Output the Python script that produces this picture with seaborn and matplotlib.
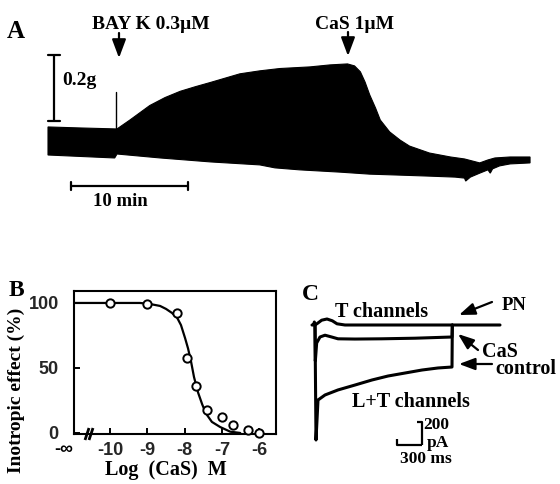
import numpy as np
import matplotlib
matplotlib.use("Agg")
import matplotlib.pyplot as plt
import seaborn as sns
from matplotlib.lines import Line2D
from matplotlib.patches import FancyArrowPatch

sns.set_theme(style="white")
plt.rcParams['font.family'] = ['Liberation Serif', 'DejaVu Sans']
plt.rcParams['axes.unicode_minus'] = False

W, H = 560, 484

# ---------------- Panel A: contraction trace envelope (time in min, force in g)
a_top_t = [0, 2.7, 5.8, 5.9, 7.0, 8.7, 10.0, 11.3, 12.6, 13.9, 16.4, 18.1, 19.8, 22.4, 24.1,
           25.6, 26.2, 26.7, 27.1, 27.5, 28.0, 28.4, 29.2, 30.1, 30.9, 32.6, 34.4, 35.6,
           36.9, 37.6, 38.2, 39.5, 41.2]
a_top_g = [0.085, 0.082, 0.079, 0.079, 0.106, 0.150, 0.174, 0.193, 0.207, 0.220, 0.246, 0.255,
           0.262, 0.267, 0.273, 0.276, 0.270, 0.252, 0.221, 0.182, 0.142, 0.106, 0.070, 0.045,
           0.027, 0.006, -0.006, -0.012, -0.024, -0.015, -0.009, -0.006, -0.006]
a_bot_t = [0, 5.7, 5.9, 9.6, 13.9, 18.1, 19.4, 21.5, 25.0, 27.5, 30.1, 32.6, 34.8, 35.6,
           35.7, 36.1, 36.9, 37.6, 37.8, 38.0, 38.6, 39.5, 41.2]
a_bot_g = [0.0, -0.009, 0.003, -0.009, -0.021, -0.030, -0.039, -0.045, -0.052, -0.058, -0.061,
           -0.064, -0.067, -0.070, -0.079, -0.067, -0.055, -0.045, -0.055, -0.042, -0.033,
           -0.027, -0.024]
a_spike_t = [5.8, 5.8]
a_spike_g = [0.079, 0.191]

# ---------------- Panel B: concentration-response
b_logc = [-10, -9, -8.2, -7.95, -7.7, -7.4, -7.0, -6.7, -6.3, -6.0]
b_effect = [100, 99, 92, 58, 36, 18, 12, 6, 2, 0]
b_fit_logc = [-10.97, -9.2, -8.93, -8.66, -8.5, -8.34, -8.2, -8.1, -7.99, -7.91, -7.83, -7.75,
              -7.64, -7.53, -7.43, -7.27, -7.05, -6.78, -6.51]
b_fit_effect = [100, 100, 99.2, 97.7, 95.4, 92.3, 88.5, 83, 73, 65, 55, 43, 31, 22, 15, 8.5,
                4.6, 1, 0]
b_xticks = [-10, -9, -8, -7, -6]
b_xticklabels = ['-10', '-9', '-8', '-7', '-6']
b_yticks = [0, 50, 100]
b_yticklabels = ['0', '50', '100']

# ---------------- Panel C: current traces (ms, pA)
c_pn_t = [-45, -20, -10, 0, 40, 100, 180, 260, 330, 450, 1000, 1600, 2055, 2775]
c_pn_i = [0, 0, 25, 0, 15, 40, 50, 35, 10, 0, 0, 0, 0, 0]
c_cas_t = [0, 5, 25, 75, 150, 250, 345, 600, 1000, 1500, 2055, 2060]
c_cas_i = [0, -300, -150, -100, -85, -100, -115, -117, -115, -110, -100, 0]
c_ctl_t = [0, 15, 45, 150, 345, 600, 855, 1095, 1350, 1605, 1845, 2055, 2060]
c_ctl_i = [0, -958, -625, -583, -541, -500, -458, -425, -400, -375, -358, -350, 0]

fig = plt.figure(figsize=(W / 100, H / 100), dpi=100)
fig.patch.set_facecolor('white')


def rect(x0, y0, x1, y1):
    return [x0 / W, 1 - y1 / H, (x1 - x0) / W, (y1 - y0) / H]


def fx(x):
    return x / W


def fy(y):
    return 1 - y / H


SERIF = dict(family=['Liberation Serif', 'DejaVu Sans'], weight='bold')
SANS = dict(family=['Liberation Sans', 'DejaVu Sans'], weight='bold')


def ftext(x, y, s, size=14.5, ha='left', va='baseline', font=SERIF, **kw):
    fig.text(fx(x), fy(y), s, fontsize=size, ha=ha, va=va, color='black', **font, **kw)


def fline(xs, ys, lw=1.5):
    fig.add_artist(Line2D([fx(v) for v in xs], [fy(v) for v in ys], color='black', lw=lw,
                          transform=fig.transFigure, solid_capstyle='butt'))


def farrow(x0, y0, x1, y1, lw=1.6, ms=14):
    fig.add_artist(FancyArrowPatch((fx(x0), fy(y0)), (fx(x1), fy(y1)),
                                   transform=fig.transFigure,
                                   arrowstyle='-|>,head_length=0.8,head_width=0.3',
                                   mutation_scale=ms, color='black', lw=lw,
                                   shrinkA=0, shrinkB=0))


# ================= Panel A
axA = fig.add_axes(rect(40, 20, 540, 210))
axA.set_xlim(-8 / 11.7, 492 / 11.7)
axA.set_ylim(-55 / 330, 135 / 330)
axA.axis('off')
poly_t = np.r_[a_top_t, a_bot_t[::-1]]
poly_g = np.r_[a_top_g, a_bot_g[::-1]]
axA.fill(poly_t, poly_g, color='black', lw=0.8, ec='black')
sns.lineplot(x=a_spike_t, y=a_spike_g, ax=axA, color='black', lw=1.0, estimator=None, sort=False)
# scale bars
t_bar = (54 - 48) / 11.7
axA.plot([t_bar, t_bar], [0.103, 0.303], color='black', lw=1.6, solid_capstyle='butt')
for gv in (0.103, 0.303):
    axA.plot([t_bar - 0.55, t_bar + 0.55], [gv, gv], color='black', lw=1.6)
g_tb = (155 - 186) / 330
axA.plot([1.97, 11.97], [g_tb, g_tb], color='black', lw=1.6)
for tv in (1.97, 11.97):
    axA.plot([tv, tv], [g_tb - 0.012, g_tb + 0.012], color='black', lw=1.6)

ftext(16, 32, 'A', size=18, ha='center', va='center')
ftext(151, 29, 'BAY K 0.3µM', size=14, ha='center')
ftext(355, 29, 'CaS 1µM', size=14, ha='center')
farrow(119, 33, 119, 58)
farrow(348, 32, 348, 56)
ftext(62, 85, '0.2g', size=14)
ftext(120, 201, '10 min', size=13.5, ha='center', va='center')

# ================= Panel B
axB = fig.add_axes(rect(74, 291, 276, 434))
axB.set_xlim(-10.97, -5.55)
axB.set_ylim(-0.8, 109.2)
axB.set_facecolor('white')
sns.lineplot(x=b_fit_logc, y=b_fit_effect, ax=axB, color='black', lw=1.6, estimator=None,
             sort=False)
sns.scatterplot(x=b_logc, y=b_effect, ax=axB, marker='o', s=36, facecolor='white',
                edgecolor='black', linewidth=1.4, zorder=5, clip_on=False)
for sp in axB.spines.values():
    sp.set_visible(True)
    sp.set_color('black')
    sp.set_linewidth(1.5)
axB.set_xticks(b_xticks)
axB.set_xticklabels(b_xticklabels)
axB.set_yticks(b_yticks)
axB.set_yticklabels(b_yticklabels)
axB.tick_params(axis='both', direction='in', length=4, width=1.4, color='black',
                labelsize=13, bottom=True, left=True)
axB.tick_params(axis='x', pad=6)
axB.tick_params(axis='y', pad=11)
for lab in axB.get_xticklabels() + axB.get_yticklabels():
    lab.set_fontfamily(['Liberation Sans', 'DejaVu Sans'])
    lab.set_fontweight('bold')
axB.set_xlabel('')
axB.set_ylabel('')
ftext(64, 450, '-∞', size=13, ha='center', va='center', font=SANS)
fline([85, 89], [440, 428], lw=2)
fline([89, 93], [440, 428], lw=2)
ftext(16, 390, 'Inotropic effect (%)', size=14, ha='center', va='center', rotation=90)
ftext(166, 470, 'Log  (CaS)  M', size=14.5, ha='center', va='center')
ftext(16, 291, 'B', size=17, ha='center', va='center')

# ================= Panel C
axC = fig.add_axes(rect(300, 290, 560, 470))
axC.set_xlim(-15 * 15, (560 - 315) * 15)
axC.set_ylim(-(470 - 325) * 8.33, -(290 - 325) * 8.33)
axC.axis('off')
for tt, ii in ((c_pn_t, c_pn_i), (c_cas_t, c_cas_i), (c_ctl_t, c_ctl_i)):
    sns.lineplot(x=tt, y=ii, ax=axC, color='black', lw=2.2, estimator=None, sort=False)

ftext(310, 294, 'C', size=17, ha='center', va='center')
ftext(335, 317, 'T channels', size=14.5)
ftext(502, 310, 'PN', size=13.5)
farrow(492, 302, 459, 315, lw=1.6, ms=12)
ftext(482, 357, 'CaS', size=14.5)
farrow(478, 350, 458, 334, lw=1.6, ms=12)
ftext(495, 374, 'control', size=14.5)
farrow(492, 364, 459, 364, lw=1.6, ms=12)
ftext(352, 407, 'L+T channels', size=14.5)
# scale bar
fline([417, 422, 422], [422, 422, 445], lw=1.6)
fline([397, 397, 422], [439, 445, 445], lw=1.6)
ftext(423, 429, '200', size=12.5)
ftext(427, 447, 'pA', size=12.5)
ftext(400, 463, '300 ms', size=12.5)

fig.savefig('out.png', dpi=100, facecolor='white')
